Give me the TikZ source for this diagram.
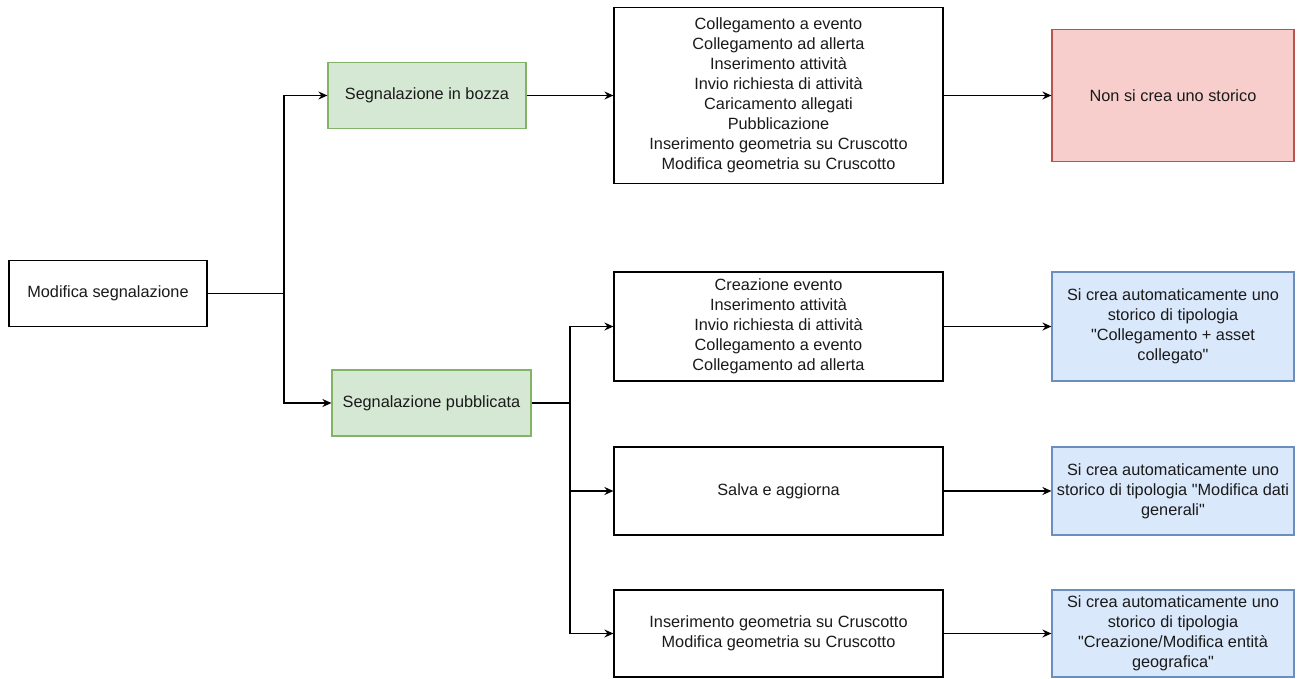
\documentclass[tikz,border=0pt]{standalone}
\usepackage{fontspec}
\setmainfont{Liberation Sans}[Ligatures=TeXOff]
\usetikzlibrary{arrows.meta}
\definecolor{gfill}{HTML}{D5E8D4}
\definecolor{gline}{HTML}{82B366}
\definecolor{rfill}{HTML}{F8CECC}
\definecolor{rline}{HTML}{B85450}
\definecolor{bfill}{HTML}{DAE8FC}
\definecolor{bline}{HTML}{6C8EBF}
\definecolor{txt}{HTML}{1A1A1A}
\tikzset{
  box/.style={draw=black, line width=1.2pt, rectangle, inner sep=0pt, align=center,
    text=txt, font=\fontsize{16.3}{20}\selectfont},
  gbox/.style={box, draw=gline, fill=gfill},
  rbox/.style={box, draw=rline, fill=rfill},
  bbox/.style={box, draw=bline, fill=bfill},
  conn/.style={line width=1.4pt, draw=black},
  arr/.style={conn, -{Stealth[length=9pt,width=8pt,inset=3pt]}},
}
\begin{document}
\begin{tikzpicture}[x=1pt,y=-1pt]
\useasboundingbox[fill=white] (0,0) rectangle (1301,678);
\node[box, minimum width=198pt, minimum height=66pt] (mod) at (108,293.5) {Modifica segnalazione};
\node[gbox, minimum width=198pt, minimum height=66pt] (bozza) at (427,95.5) {Segnalazione in bozza};
\node[gbox, minimum width=199pt, minimum height=66pt] (pub) at (431.5,403) {Segnalazione pubblicata};
\node[box, minimum width=329pt, minimum height=176pt] (big) at (778.5,95.5) {Collegamento a evento\\Collegamento ad allerta\\Inserimento attività\\Invio richiesta di attività\\Caricamento allegati\\Pubblicazione\\Inserimento geometria su Cruscotto\\Modifica geometria su Cruscotto};
\node[rbox, minimum width=242pt, minimum height=132pt] (red) at (1173,95.5) {Non si crea uno storico};
\node[box, minimum width=329pt, minimum height=109pt] (b2) at (778.5,326.5) {Creazione evento\\Inserimento attività\\Invio richiesta di attività\\Collegamento a evento\\Collegamento ad allerta};
\node[bbox, minimum width=242pt, minimum height=109pt] (bl1) at (1173,326.5) {Si crea automaticamente uno\\storico di tipologia\\"Collegamento + asset\\collegato"};
\node[box, minimum width=329pt, minimum height=88pt] (b3) at (778.5,491) {Salva e aggiorna};
\node[bbox, minimum width=242pt, minimum height=88pt] (bl2) at (1173,491) {Si crea automaticamente uno\\storico di tipologia "Modifica dati\\generali"};
\node[box, minimum width=329pt, minimum height=87pt] (b4) at (778.5,633.5) {Inserimento geometria su Cruscotto\\Modifica geometria su Cruscotto};
\node[bbox, minimum width=242pt, minimum height=87pt] (bl3) at (1173,633.5) {Si crea automaticamente uno\\storico di tipologia\\"Creazione/Modifica entità\\geografica"};
\coordinate (j1) at (284,293.5);
\coordinate (j2) at (570,403);
\draw[conn] (mod.east) -- (j1);
\draw[arr] (j1) |- (bozza.west);
\draw[arr] (j1) |- (pub.west);
\draw[conn] (pub.east) -- (j2);
\draw[arr] (j2) |- (b2.west);
\draw[arr] (j2) |- (b3.west);
\draw[arr] (j2) |- (b4.west);
\draw[arr] (bozza.east) -- (big.west);
\draw[arr] (big.east) -- (red.west);
\draw[arr] (b2.east) -- (bl1.west);
\draw[arr] (b3.east) -- (bl2.west);
\draw[arr] (b4.east) -- (bl3.west);
\end{tikzpicture}
\end{document}
